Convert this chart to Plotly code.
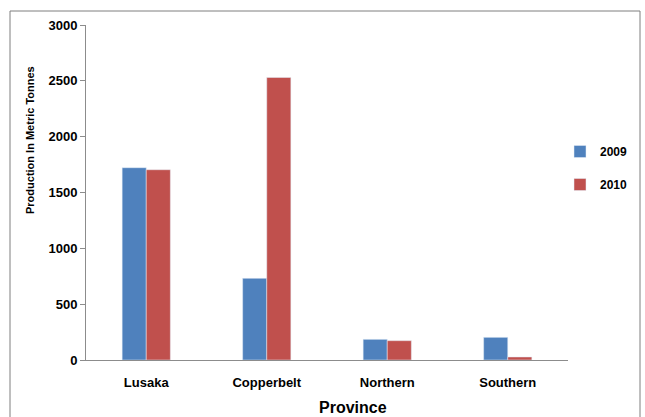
import plotly.graph_objects as go

provinces = ["Lusaka", "Copperbelt", "Northern", "Southern"]
prod_2009 = [1722, 731, 185, 203]
prod_2010 = [1704, 2530, 173, 27]
y_ticks = [0, 500, 1000, 1500, 2000, 2500, 3000]

W, H = 645, 417
L, R, T, B = 86, 77, 25, 57
pw, ph = W - L - R, H - T - B

def px_x(p):
    return (p - L) / pw

def px_y(p):
    return (H - B - p) / ph

bold = "Liberation Sans"
fig = go.Figure()
fig.add_trace(go.Bar(x=provinces, y=prod_2009, name="2009", marker_color="#4F81BD",
                     legendgroup="a"))
fig.add_trace(go.Bar(x=provinces, y=prod_2010, name="2010", marker_color="#C0504D",
                     legendgroup="b"))

fig.update_layout(
    width=W, height=H,
    margin=dict(l=L, r=R, t=T, b=B, autoexpand=False),
    paper_bgcolor="white", plot_bgcolor="white",
    barmode="group", bargap=0.6, bargroupgap=0,
    font=dict(family=bold, color="black"),
    showlegend=True,
    legend=dict(xref="container", yref="container",
                x=560 / W, y=1 - 137 / H, xanchor="left", yanchor="top",
                tracegroupgap=14, font=dict(size=12, family=bold, weight="bold"),
                itemwidth=30, bgcolor="rgba(0,0,0,0)"),
    xaxis=dict(showline=True, linecolor="#8c8c8c", linewidth=1, ticks="",
               tickfont=dict(size=13, weight="bold"), ticklabelstandoff=10,
               showgrid=False),
    yaxis=dict(range=[0, 3000], tickvals=y_ticks, showline=True, linecolor="#8c8c8c",
               linewidth=1, ticks="outside", ticklen=5, tickcolor="#8c8c8c",
               tickfont=dict(size=13, weight="bold"), showgrid=False, zeroline=False),
    shapes=[dict(type="rect", xref="paper", yref="paper",
                 x0=px_x(10), x1=px_x(640), y0=px_y(420), y1=px_y(11),
                 line=dict(color="#7f7f7f", width=1), layer="below")],
    annotations=[
        dict(text="Production In Metric Tonnes", xref="paper", yref="paper",
             x=px_x(30), y=px_y(140), xanchor="center", yanchor="middle",
             textangle=-90, showarrow=False,
             font=dict(size=11, weight="bold")),
        dict(text="Province", xref="paper", yref="paper",
             x=px_x(353), y=px_y(407), xanchor="center", yanchor="middle",
             showarrow=False, font=dict(size=16, weight="bold")),
    ],
)

fig.write_html("out.html")
